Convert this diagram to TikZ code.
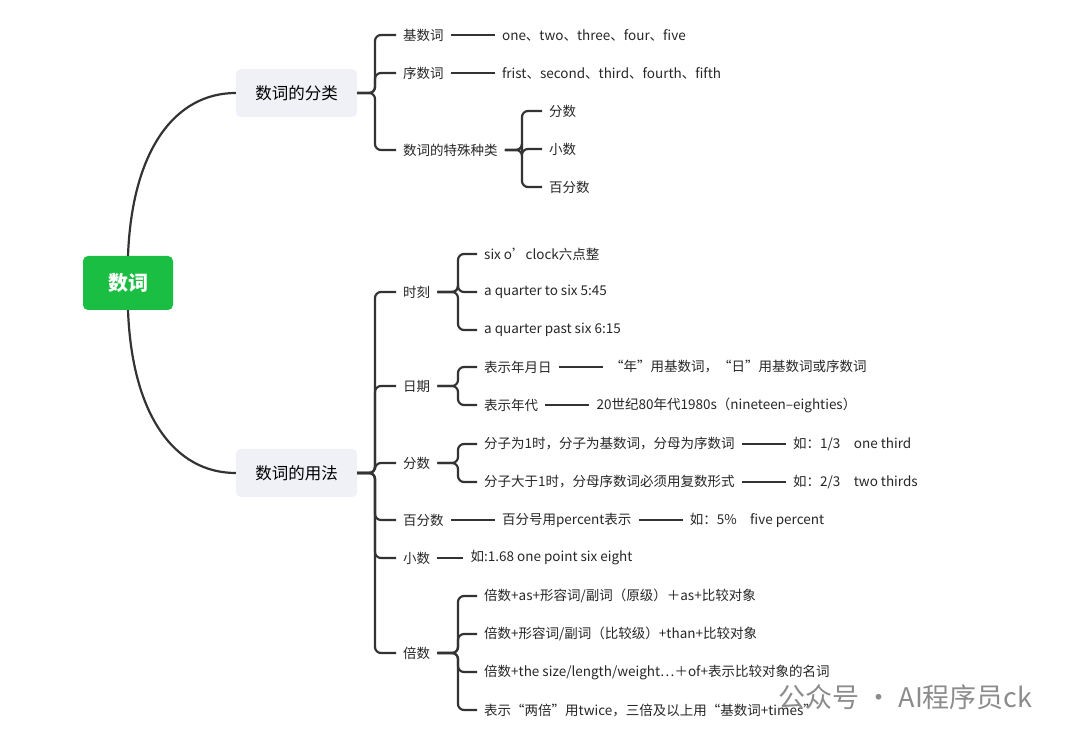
\documentclass[tikz,border=0pt]{standalone}
\usepackage{fontspec}
\setmainfont{Noto Sans CJK SC}
\usetikzlibrary{calc}

\definecolor{rootgreen}{RGB}{26,190,66}
\definecolor{topicgray}{RGB}{240,241,246}
\definecolor{linedark}{RGB}{51,51,51}

\tikzset{
  txt/.style={anchor=west, inner xsep=7pt, inner ysep=2pt,
              font=\fontsize{13.5}{16}\selectfont, text=black!85},
  topic/.style={draw=none, fill=topicgray, rounded corners=5pt,
                minimum width=121pt, minimum height=48pt,
                font=\fontsize{16.5}{18}\selectfont},
  br/.style={draw=linedark, line width=2.2pt, rounded corners=6pt},
  link/.style={draw=linedark, line width=2.2pt},
}

\begin{document}
\begin{tikzpicture}[x=1pt, y=-1pt]
    \useasboundingbox (0,0) rectangle (1080,743);

    \node[fill=rootgreen, rounded corners=5pt, text=white,
          minimum width=90pt, minimum height=54pt,
          font=\bfseries\fontsize{20}{22}\selectfont] (root) at (128,283) {数词};
    \node[topic] (cls) at (296.5,93) {数词的分类};
    \node[topic] (use) at (296.5,473) {数词的用法};

    \draw[br, rounded corners=0pt] (root.north) .. controls (132,150) and (175,93) .. (cls.west);
    \draw[br, rounded corners=0pt] (root.south) .. controls (132,416) and (175,473) .. (use.west);

    % classification
    \coordinate (b1) at (375,0);
    \node[txt] (card) at (396,35) {基数词};
    \node[txt] (ord) at (396,73) {序数词};
    \node[txt] (spec) at (396,150) {数词的特殊种类};
    \node[txt] (cardv) at ([xshift=44pt]card.east) {one、two、three、four、five};
    \node[txt] (ordv) at ([xshift=44pt]ord.east) {frist、second、third、fourth、fifth};
    \foreach \c in {card, ord, spec}
        \draw[br] (cls.east) -- (cls.east -| b1) |- (\c.west);
    \draw[link] (card.east) -- (cardv.west);
    \draw[link] (ord.east) -- (ordv.west);

    \coordinate (b2) at (522,0);
    \node[txt] (frac) at (542,111) {分数};
    \node[txt] (dec) at (542,149) {小数};
    \node[txt] (pct) at (542,187) {百分数};
    \foreach \c in {frac, dec, pct}
        \draw[br] (spec.east) -- (spec.east -| b2) |- (\c.west);

    % usage
    \coordinate (b3) at (375,0);
    \node[txt] (time) at (396,292) {时刻};
    \node[txt] (date) at (396,386) {日期};
    \node[txt] (ufrac) at (396,463) {分数};
    \node[txt] (upct) at (396,520) {百分数};
    \node[txt] (udec) at (396,558) {小数};
    \node[txt] (mult) at (396,653) {倍数};
    \foreach \c in {time, date, ufrac, upct, udec, mult}
        \draw[br] (use.east) -- (use.east -| b3) |- (\c.west);

    \coordinate (b4) at (458,0);
    % time
    \node[txt] (t1) at (477,254) {six o{\char"0027}clock六点整};
    \node[txt] (t2) at (477,292) {a quarter to six 5:45};
    \node[txt] (t3) at (477,330) {a quarter past six 6:15};
    \foreach \c in {t1, t2, t3}
        \draw[br] (time.east) -- (time.east -| b4) |- (\c.west);

    % date
    \node[txt] (d1) at (477,367) {表示年月日};
    \node[txt] (d2) at (477,405) {表示年代};
    \node[txt] (d1v) at ([xshift=44pt]d1.east) {“年”用基数词，“日”用基数词或序数词};
    \node[txt] (d2v) at ([xshift=44pt]d2.east) {20世纪80年代1980s（nineteen–eighties）};
    \foreach \c in {d1, d2}
        \draw[br] (date.east) -- (date.east -| b4) |- (\c.west);
    \draw[link] (d1.east) -- (d1v.west);
    \draw[link] (d2.east) -- (d2v.west);

    % fractions
    \node[txt] (f1) at (477,444) {分子为1时，分子为基数词，分母为序数词};
    \node[txt] (f2) at (477,482) {分子大于1时，分母序数词必须用复数形式};
    \node[txt] (f1v) at ([xshift=44pt]f1.east) {如：1/3\quad one third};
    \node[txt] (f2v) at ([xshift=44pt]f2.east) {如：2/3\quad two thirds};
    \foreach \c in {f1, f2}
        \draw[br] (ufrac.east) -- (ufrac.east -| b4) |- (\c.west);
    \draw[link] (f1.east) -- (f1v.west);
    \draw[link] (f2.east) -- (f2v.west);

    % percent and decimals
    \node[txt] (p1) at ([xshift=44pt]upct.east) {百分号用percent表示};
    \node[txt] (p1v) at ([xshift=44pt]p1.east) {如：5\%\quad five percent};
    \node[txt] (dv) at ([xshift=26pt]udec.east) {如:1.68 one point six eight};
    \draw[link] (upct.east) -- (p1.west);
    \draw[link] (p1.east) -- (p1v.west);
    \draw[link] (udec.east) -- (dv.west);

    % multiples
    \node[txt] (m1) at (477,596) {倍数+as+形容词/副词（原级）＋as+比较对象};
    \node[txt] (m2) at (477,634) {倍数+形容词/副词（比较级）+than+比较对象};
    \node[txt] (m3) at (477,672) {倍数+the size/length/weight…＋of+表示比较对象的名词};
    \node[txt] (m4) at (477,710) {表示“两倍”用twice，三倍及以上用“基数词+times”};
    \foreach \c in {m1, m2, m3, m4}
        \draw[br] (mult.east) -- (mult.east -| b4) |- (\c.west);

    % watermark
    \node[anchor=west, text=black!45, font=\fontsize{27}{29}\selectfont]
        (mark) at (775,697) {公众号 · AI程序员ck};
\end{tikzpicture}
\end{document}
